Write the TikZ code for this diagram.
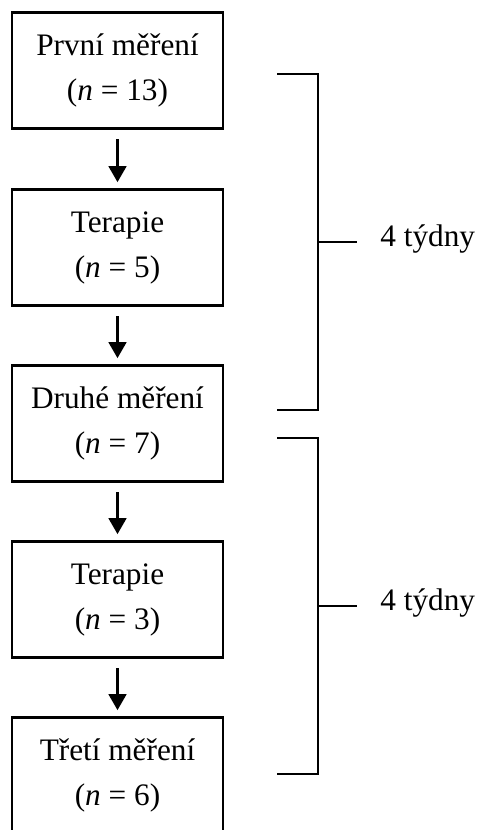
\documentclass[tikz,border=0pt]{standalone}
\usepackage{fontspec}
\setmainfont{Liberation Serif}
\usetikzlibrary{arrows.meta}
\tikzset{>={Triangle[width=3.5mm,length=3.2mm]}}

\begin{document}
\begin{tikzpicture}
% Define styles
\tikzstyle{stage} = [rectangle, draw, line width=1.5pt, minimum width=4.22cm, minimum height=2.32cm, align=center, font=\fontsize{17.8}{25.6}\selectfont]
\tikzstyle{bracket} = [line width=0.75pt]
\tikzstyle{weeks} = [anchor=mid west, inner xsep=0.46cm, inner ysep=0pt, font=\fontsize{17.8}{25.6}\selectfont]
\clip (0,0) rectangle (9.56,-16.6);
% Define nodes
\node[stage] (mer1) at (2.35,-1.41) {První měření\\(\textit{n} = 13)};
\node[stage] (ter1) at (2.35,-4.95) {Terapie\\(\textit{n} = 5)};
\node[stage] (mer2) at (2.35,-8.47) {Druhé měření\\(\textit{n} = 7)};
\node[stage] (ter2) at (2.35,-11.99) {Terapie\\(\textit{n} = 3)};
\node[stage] (mer3) at (2.35,-15.51) {Třetí měření\\(\textit{n} = 6)};
% Connect the nodes
\draw[->, line width=1.7pt, shorten <=0.19cm, shorten >=0.12cm] (mer1) -- (ter1);
\draw[->, line width=1.7pt, shorten <=0.19cm, shorten >=0.12cm] (ter1) -- (mer2);
\draw[->, line width=1.7pt, shorten <=0.19cm, shorten >=0.12cm] (mer2) -- (ter2);
\draw[->, line width=1.7pt, shorten <=0.19cm, shorten >=0.12cm] (ter2) -- (mer3);
% Brackets
\draw[bracket] (5.54,-1.48) -| (6.36,-8.2) -- (5.54,-8.2);
\coordinate (mid1) at (6.36,-4.84);
\node[weeks] (wk1) at (7.14,-4.84) {4 týdny};
\draw[bracket] (mid1) -- (wk1.mid west);
\draw[bracket] (5.54,-8.76) -| (6.36,-15.48) -- (5.54,-15.48);
\coordinate (mid2) at (6.36,-12.12);
\node[weeks] (wk2) at (7.14,-12.12) {4 týdny};
\draw[bracket] (mid2) -- (wk2.mid west);
\end{tikzpicture}
\end{document}
